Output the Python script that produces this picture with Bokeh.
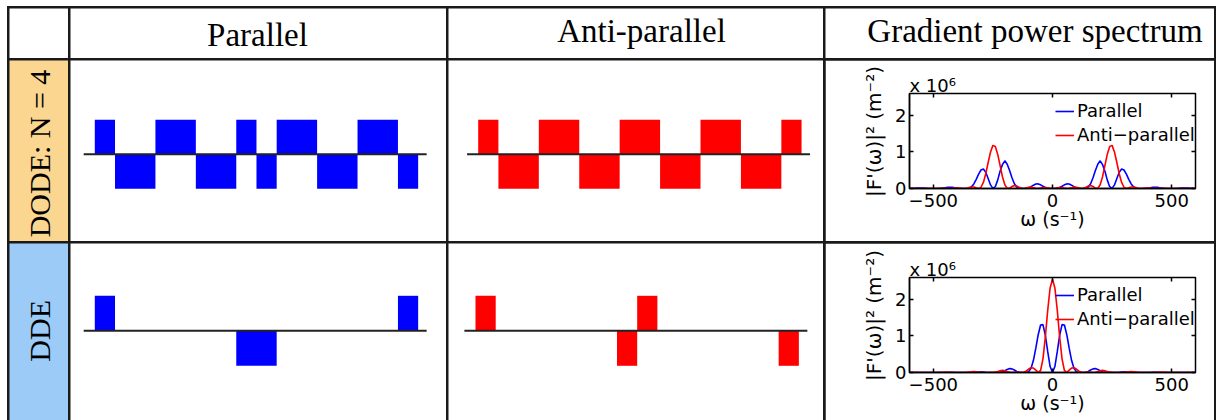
import math

from bokeh.embed import file_html
from bokeh.models import (FixedTicker, GridBox, Label, Legend, LegendItem,
                          LinearAxis, Range1d, Spacer)
from bokeh.plotting import figure
from bokeh.resources import INLINE

# ---------------------------------------------------------------------------
# Gradient waveforms: sign of each block and its length (in units of the
# shortest lobe).  A level of 0 is a gap between pulses.
# ---------------------------------------------------------------------------
par_dode_level = [1, -1, 1, -1, 1, -1, 1, -1, 1, -1]
par_dode_len = [1, 2, 2, 2, 1, 1, 2, 2, 2, 1]
anti_dode_level = [1, -1, 1, -1, 1, -1, 1, -1, 1]
anti_dode_len = [1, 2, 2, 2, 2, 2, 2, 2, 1]
par_dde_level = [1, 0, -1, 0, 1]
par_dde_len = [1, 6, 2, 6, 1]
anti_dde_level = [1, 0, -1, 1, 0, -1]
anti_dde_len = [1, 6, 1, 1, 6, 1]

# ---------------------------------------------------------------------------
# Gradient power spectra |F'(w)|^2 in units of 1e6 m^-2, sampled every
# 10 s^-1 from 0 to 600.  The spectra are even in w, so the negative half
# is the mirror image of these values.
# ---------------------------------------------------------------------------
omega = list(range(-600, 601, 10))

dode_par_half = [
    0.000, 0.000, 0.006, 0.026, 0.061, 0.101, 0.126, 0.123, 0.091, 0.050,
    0.017, 0.003, 0.000, 0.000, 0.006, 0.040, 0.131, 0.294, 0.493, 0.666,
    0.757, 0.654, 0.474, 0.229, 0.049, 0.003, 0.098, 0.276, 0.445, 0.531,
    0.507, 0.395, 0.251, 0.125, 0.046, 0.010, 0.001, 0.000, 0.000, 0.002,
    0.010, 0.021, 0.031, 0.035, 0.030, 0.020, 0.010, 0.003, 0.001, 0.000,
    0.000, 0.000, 0.002, 0.005, 0.009, 0.012, 0.012, 0.010, 0.006, 0.003,
    0.001]
dode_anti_half = [
    0.000, 0.007, 0.020, 0.029, 0.024, 0.010, 0.000, 0.005, 0.022, 0.037,
    0.036, 0.019, 0.002, 0.005, 0.032, 0.067, 0.079, 0.054, 0.012, 0.007,
    0.101, 0.322, 0.631, 0.940, 1.150, 1.180, 1.000, 0.712, 0.404, 0.165,
    0.034, 0.000, 0.017, 0.039, 0.041, 0.027, 0.009, 0.000, 0.003, 0.010,
    0.013, 0.010, 0.004, 0.000, 0.001, 0.004, 0.006, 0.005, 0.003, 0.000,
    0.000, 0.002, 0.003, 0.004, 0.002, 0.001, 0.000, 0.001, 0.002, 0.003,
    0.002]
dde_par_half = [
    0.000, 0.164, 0.571, 1.017, 1.310, 1.300, 1.034, 0.667, 0.333, 0.118,
    0.023, 0.001, 0.000, 0.000, 0.005, 0.029, 0.068, 0.100, 0.107, 0.085,
    0.049, 0.018, 0.003, 0.000, 0.001, 0.001, 0.000, 0.002, 0.007, 0.014,
    0.017, 0.014, 0.008, 0.002, 0.000, 0.001, 0.002, 0.002, 0.001, 0.000,
    0.001, 0.002, 0.003, 0.003, 0.001, 0.000, 0.000, 0.001, 0.002, 0.002,
    0.001, 0.000, 0.000, 0.000, 0.000, 0.000, 0.000, 0.000, 0.000, 0.001,
    0.001]
dde_anti_half = [
    2.550, 2.314, 1.707, 0.975, 0.373, 0.055, 0.005, 0.063, 0.121, 0.130,
    0.094, 0.044, 0.009, 0.000, 0.006, 0.011, 0.006, 0.000, 0.006, 0.026,
    0.048, 0.057, 0.049, 0.030, 0.012, 0.002, 0.000, 0.000, 0.000, 0.000,
    0.004, 0.011, 0.019, 0.023, 0.021, 0.014, 0.007, 0.002, 0.000, 0.000,
    0.000, 0.000, 0.002, 0.004, 0.007, 0.009, 0.008, 0.006, 0.003, 0.001,
    0.000, 0.000, 0.000, 0.000, 0.000, 0.001, 0.002, 0.003, 0.002, 0.002,
    0.001]


def mirrored(half):
    return half[:0:-1] + half


# Table text
column_titles = ["Parallel", "Anti-parallel", "Gradient power spectrum"]
row_titles = ["DODE: N = 4", "DDE"]
legend_labels = ["Parallel", "Anti\u2212parallel"]
y_scale_note = "x 10\u2076"
x_label = "\u03c9 (s\u207b\u00b9)"
# leading no-break spaces lift the centred label a little along the axis
y_label = "\u00a0\u00a0\u00a0|F'(\u03c9)|\u00b2 (m\u207b\u00b2)"

# ---------------------------------------------------------------------------
# Layout constants (pixels)
# ---------------------------------------------------------------------------
COL_W = [59, 376, 375, 389]
ROW_H = [50, 181, 177]
LINE = "#1a1a1a"
SERIF = "Liberation Serif"
SANS = "DejaVu Sans"
BLUE = "#0000FF"
RED = "#FF0000"
ORANGE_CELL = "#FAD691"
BLUE_CELL = "#9CCBF8"
UNIT_PX = 20.21  # width of one waveform time unit


def bare(p, fill="white"):
    p.grid.visible = False
    p.outline_line_color = None
    p.background_fill_color = fill
    p.border_fill_color = fill
    return p


def blank(w, h, fill="white"):
    p = figure(width=w, height=h, x_range=Range1d(0, w), y_range=Range1d(h, 0),
               x_axis_location=None, y_axis_location=None,
               toolbar_location=None, output_backend="svg", min_border=0,
               frame_align=False)
    return bare(p, fill)


def header(w, text, cx, cy):
    p = blank(w, ROW_H[0])
    p.add_layout(Label(x=cx, y=cy, text=text, text_font=SERIF,
                       text_font_size="33px", text_align="center",
                       text_baseline="middle", text_color="black"))
    return p


def row_label(h, text, fill, cx, cy):
    p = blank(COL_W[0], h, fill)
    p.add_layout(Label(x=cx, y=cy, text=text, angle=math.pi / 2,
                       text_font=SERIF, text_font_size="30px",
                       text_align="center", text_baseline="middle",
                       text_color="black"))
    return p


def waveform(w, h, levels, lengths, color, t0_px, base_px, amp_px):
    x_range = Range1d(-t0_px / UNIT_PX, (w - t0_px) / UNIT_PX)
    y_range = Range1d(-(h - base_px) / amp_px, base_px / amp_px)
    p = figure(width=w, height=h, x_range=x_range, y_range=y_range,
               x_axis_location=None, y_axis_location=None,
               toolbar_location=None, output_backend="svg", min_border=0,
               frame_align=False)
    bare(p)
    left, right, top = [], [], []
    t = 0
    for lv, ln in zip(levels, lengths):
        if lv != 0:
            left.append(t)
            right.append(t + ln)
            top.append(lv)
        t += ln
    p.quad(left=left, right=right, bottom=0, top=top,
           fill_color=color, line_color=None)
    p.segment(x0=[-0.55], y0=[0], x1=[t + 0.42], y1=[0],
              line_color="#222222", line_width=2)
    return p


def style_axis(ax, standoff):
    ax.major_tick_in = 4
    ax.major_tick_out = 0
    ax.minor_tick_line_color = None
    ax.axis_line_width = 1.5
    ax.axis_line_color = "black"
    ax.major_tick_line_width = 1.5
    ax.major_tick_line_color = "black"
    ax.major_label_text_font = SANS
    ax.major_label_text_font_size = "18px"
    ax.major_label_text_color = "black"
    ax.major_label_standoff = standoff
    ax.axis_label_text_font = SANS
    ax.axis_label_text_font_size = "19px"
    ax.axis_label_text_font_style = "normal"
    ax.axis_label_text_color = "black"


def spectrum(h, top, bottom, blue, red):
    p = figure(width=COL_W[3], height=h,
               x_range=Range1d(-600, 600), y_range=Range1d(0, 2.6),
               toolbar_location=None, output_backend="svg",
               min_border_left=84, min_border_right=19,
               min_border_top=top, min_border_bottom=bottom,
               frame_align=False)
    p.grid.visible = False
    p.outline_line_color = "black"
    p.outline_line_width = 1.5

    rb = p.line(omega, blue, line_color=BLUE, line_width=1.6)
    rr = p.line(omega, red, line_color=RED, line_width=1.6)

    xt = [-500, 0, 500]
    yt = [0, 1, 2]
    xa = p.xaxis[0]
    ya = p.yaxis[0]
    xa.ticker = FixedTicker(ticks=xt)
    ya.ticker = FixedTicker(ticks=yt)
    style_axis(xa, 5)
    style_axis(ya, 3)
    xa.axis_label = x_label
    xa.axis_label_standoff = -2
    ya.axis_label = y_label
    ya.axis_label_text_font_size = "20px"
    ya.axis_label_standoff = 6

    # tick marks on the top and right edges of the box
    for loc, ticks in (("above", xt), ("right", yt)):
        ax = LinearAxis(ticker=FixedTicker(ticks=ticks))
        style_axis(ax, 0)
        ax.axis_line_color = None
        ax.major_label_text_font_size = "1px"
        ax.major_label_text_color = None
        p.add_layout(ax, loc)

    # exponent of the y scale, sitting on the top-left corner of the box
    p.title.text = y_scale_note
    p.title.align = "left"
    p.title.text_font = SANS
    p.title.text_font_size = "18px"
    p.title.text_font_style = "normal"
    p.title.text_color = "black"
    p.title.standoff = -4
    p.title.offset = 0

    legend = Legend(items=[LegendItem(label=legend_labels[0], renderers=[rb]),
                           LegendItem(label=legend_labels[1], renderers=[rr])],
                    location=(146, 43), padding=0, margin=0, spacing=3,
                    border_line_color=None, background_fill_alpha=0,
                    glyph_width=19, glyph_height=20, label_height=20,
                    label_standoff=3, label_text_font=SANS,
                    label_text_font_size="18px", label_text_color="black")
    p.add_layout(legend)
    return p


# Header row
corner = blank(COL_W[0], ROW_H[0])
hdr_par = header(COL_W[1], column_titles[0], 187, 26.7)
hdr_anti = header(COL_W[2], column_titles[1], 193, 22.7)
hdr_spec = header(COL_W[3], column_titles[2], 209.5, 22)

# DODE row
lab_dode = row_label(ROW_H[1], row_titles[0], ORANGE_CELL, 29.5, 93)
w_par_dode = waveform(COL_W[1], ROW_H[1], par_dode_level, par_dode_len, BLUE,
                      24.3, 93.7, 34.5)
w_anti_dode = waveform(COL_W[2], ROW_H[1], anti_dode_level, anti_dode_len, RED,
                       29.7, 93.7, 34.5)
s_dode = spectrum(ROW_H[1], 33, 53, mirrored(dode_par_half),
                  mirrored(dode_anti_half))

# DDE row
lab_dde = row_label(ROW_H[2], row_titles[1], BLUE_CELL, 29.5, 87.3)
w_par_dde = waveform(COL_W[1], ROW_H[2], par_dde_level, par_dde_len, BLUE,
                     24.3, 87.3, 35)
w_anti_dde = waveform(COL_W[2], ROW_H[2], anti_dde_level, anti_dde_len, RED,
                      27.0, 87.3, 35)
s_dde = spectrum(ROW_H[2], 34, 48, mirrored(dde_par_half),
                 mirrored(dde_anti_half))

children = [
    (Spacer(width=0, height=0), 0, 0),
    (corner, 1, 1), (hdr_par, 1, 2), (hdr_anti, 1, 3), (hdr_spec, 1, 4),
    (lab_dode, 2, 1), (w_par_dode, 2, 2), (w_anti_dode, 2, 3), (s_dode, 2, 4),
    (lab_dde, 3, 1), (w_par_dde, 3, 2), (w_anti_dde, 3, 3), (s_dde, 3, 4),
    (Spacer(width=0, height=0), 1, 5),
]
p = GridBox(children=children, spacing=2,
            styles={"background-color": LINE}, margin=(6, 0, 0, 7))

open("out.html", "w").write(file_html(p, INLINE))
